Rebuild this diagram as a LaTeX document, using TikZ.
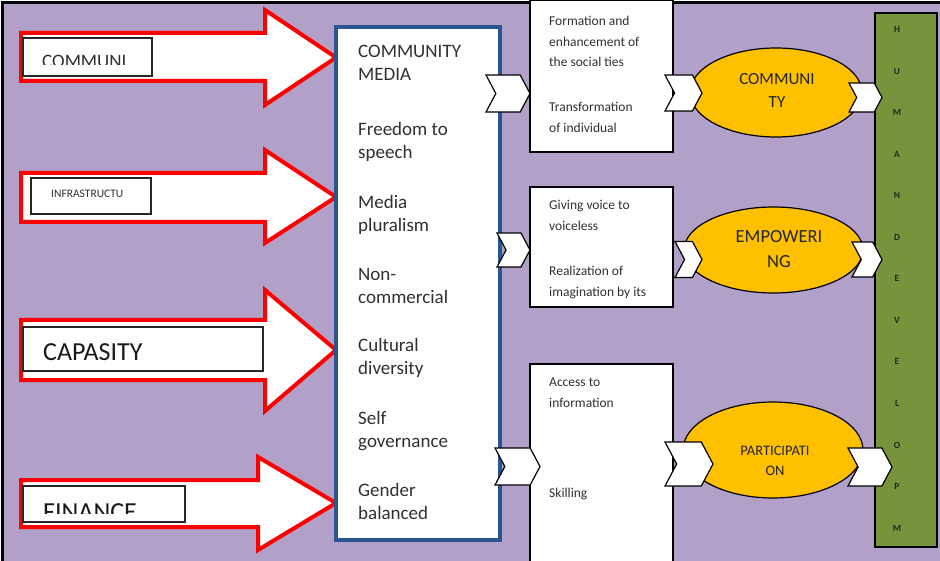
\documentclass[tikz,border=0pt]{standalone}
\usepackage{fontspec}
\setmainfont{Carlito}
\usetikzlibrary{shapes.symbols,shapes.geometric}
\definecolor{bgpurple}{HTML}{B1A0C7}
\definecolor{boxblue}{HTML}{2A5592}
\definecolor{ellyellow}{HTML}{FFC000}
\definecolor{bargreen}{HTML}{77933C}
\definecolor{txtgray}{HTML}{303030}
\begin{document}
\begin{tikzpicture}[x=1pt,y=-1pt,
  bigarrow/.style={draw=red, fill=white, line width=4pt},
  lbox/.style={draw=black!85, fill=white, line width=1.5pt, inner sep=0},
  rbox/.style={draw=black, fill=white, line width=1.5pt, inner sep=0},
  ell/.style={ellipse, draw=black, fill=ellyellow, line width=1.2pt, inner sep=0},
  chev/.style={signal, signal from=west, signal to=east, signal pointer angle=124, draw=black, fill=white, line width=1.2pt, inner sep=0},
  ctext/.style={anchor=base west, inner sep=0, font=\fontsize{19}{23}\selectfont, text=txtgray},
  rtext/.style={anchor=base west, inner sep=0, font=\fontsize{13.5}{16}\selectfont, text=txtgray},
  etext/.style={anchor=base, inner sep=0, text=black!85},
  hletter/.style={anchor=base, inner sep=0, font=\bfseries\fontsize{9.5}{11}\selectfont, text=black!85}]
\useasboundingbox (0,0) rectangle (940,561);
\begin{scope}
\clip (0,0) rectangle (940,561);
\fill[white] (0,0) rectangle (940,561);
\draw[line width=2.5pt, fill=bgpurple] (2.5,2.5) rectangle (960,580);

% big red arrows
\draw[bigarrow] (21,33) -- (265,33) -- (265,10) -- (336,57.5) -- (265,105) -- (265,81) -- (21,81) -- cycle;
\draw[bigarrow] (21,173) -- (265,173) -- (265,150) -- (336,197) -- (265,243) -- (265,222) -- (21,222) -- cycle;
\draw[bigarrow] (21,320) -- (265,320) -- (265,290) -- (336,350) -- (265,411) -- (265,380) -- (21,380) -- cycle;
\draw[bigarrow] (21,480) -- (258,480) -- (258,457) -- (336,503) -- (258,550) -- (258,527) -- (21,527) -- cycle;

% label boxes
\node[lbox, minimum width=129, minimum height=38] (l1) at (87.5,57) {};
\node[lbox, minimum width=120, minimum height=36] (l2) at (91,196) {};
\node[lbox, minimum width=240, minimum height=44] (l3) at (143,349) {};
\node[lbox, minimum width=162, minimum height=36] (l4) at (104,504) {};
\begin{scope}
\clip (23,38) rectangle (152,65);
\node[anchor=base west, inner sep=0, font=\fontsize{19}{23}\selectfont, text=txtgray] (t1) at (42,67.5) {COMMUNI};
\end{scope}
\node[anchor=base west, inner sep=0, font=\fontsize{11.5}{13}\selectfont, text=txtgray] (t2) at (51,198) {INFRASTRUCTU};
\node[anchor=base west, inner sep=0, font=\fontsize{26}{30}\selectfont, text=black!90] (t3) at (43,361) {CAPASITY};
\begin{scope}
\clip (23,486) rectangle (185,513.5);
\node[anchor=base west, inner sep=0, font=\fontsize{26}{30}\selectfont, text=black!90] (t4) at (43,520) {FINANCE};
\end{scope}

% central box
\node[draw=boxblue, line width=4pt, fill=white, inner sep=0, minimum width=164, minimum height=513] (cm) at (418,283.5) {};
\foreach \t/\yy [count=\i] in {COMMUNITY/57.5, MEDIA/81, Freedom to/136, speech/159, Media/209, pluralism/232, Non-/281, commercial/303.5, Cultural/352, diversity/374.5, Self/424, governance/447, Gender/496, balanced/519.5}
  \node[ctext] (c\i) at (358,\yy) {\t};

% right boxes
\node[rbox, minimum width=143, minimum height=152] (b1) at (601.5,76) {};
\node[rbox, minimum width=143, minimum height=120] (b2) at (601.5,247) {};
\node[rbox, minimum width=143, minimum height=210] (b3) at (601.5,469) {};
\foreach \t/\yy [count=\i] in {Formation and/25.5, enhancement of/46.5, the social ties/67, Transformation/112, of individual/133, Giving voice to/210, voiceless/230.5, Realization of/276, imagination by its/296.5, Access to/386, information/407, Skilling/497}
  \node[rtext] (r\i) at (549,\yy) {\t};

% ellipses
\node[ell, minimum width=172, minimum height=89] (e1) at (776,92.5) {};
\node[ell, minimum width=179, minimum height=86] (e2) at (773.5,250) {};
\node[ell, minimum width=180, minimum height=96] (e3) at (773,450) {};
\node[etext, font=\fontsize{17}{20}\selectfont] (e1a) at (777,85) {COMMUNI};
\node[etext, font=\fontsize{17}{20}\selectfont] (e1b) at (777,108) {TY};
\node[etext, font=\fontsize{18.5}{22}\selectfont] (e2a) at (779,243) {EMPOWERI};
\node[etext, font=\fontsize{18.5}{22}\selectfont] (e2b) at (779,268) {NG};
\node[etext, font=\fontsize{14.5}{17}\selectfont] (e3a) at (775,455) {PARTICIPATI};
\node[etext, font=\fontsize{14.5}{17}\selectfont] (e3b) at (775,475) {ON};

% green bar
\node[draw=black, line width=1.5pt, fill=bargreen, inner sep=0, minimum width=62, minimum height=534] (hd) at (906,280) {};
\foreach \L [count=\i] in {H,U,M,A,N,D,E,V,E,L,O,P,M}
  \node[hletter] (h\i) at (897,{33+41.5*(\i-1)}) {\L};

% chevron connectors
\node[chev, minimum width=44, minimum height=37] (k1) at (508,93.5) {};
\node[chev, minimum width=33, minimum height=34] (k2) at (513.5,250) {};
\node[chev, minimum width=45, minimum height=37] (k3) at (517.5,466.5) {};
\node[chev, minimum width=37, minimum height=36] (k4) at (683.5,93) {};
\node[chev, minimum width=33, minimum height=29] (k5) at (865.5,97.5) {};
\node[chev, minimum width=27, minimum height=36] (k6) at (688.5,259.5) {};
\node[chev, minimum width=30, minimum height=35] (k7) at (867,259.5) {};
\node[chev, minimum width=48, minimum height=44] (k8) at (689,464) {};
\node[chev, minimum width=44, minimum height=38] (k9) at (870,467) {};
\end{scope}
\end{tikzpicture}
\end{document}
